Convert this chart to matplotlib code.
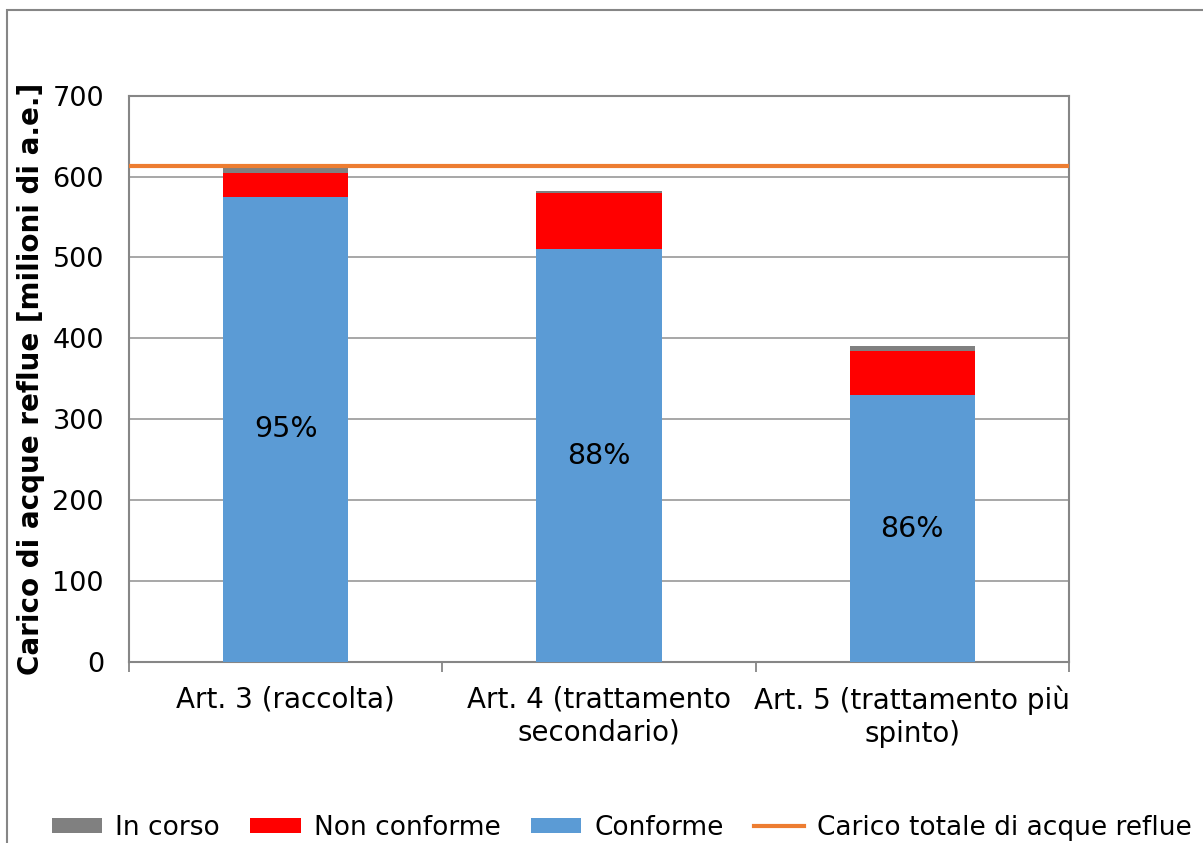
import matplotlib.pyplot as plt
from matplotlib.patches import Rectangle
import numpy as np

categories = ["Art. 3 (raccolta)", "Art. 4 (trattamento\nsecondario)", "Art. 5 (trattamento più\nspinto)"]
conforme = [575, 510, 330]
non_conforme = [29, 70, 55]
in_corso = [6, 2, 6]
carico_totale = 613
percent_labels = ["95%", "88%", "86%"]

plt.rcParams['font.family'] = ['DejaVu Sans']
fs = 20.5

fig = plt.figure(figsize=(12.03, 8.43), dpi=100)
ax = fig.add_axes([0.1072, 0.2147, 0.7814, 0.6718])

x = np.arange(len(categories))
w = 0.4
conf = np.array(conforme)
nonc = np.array(non_conforme)
inc = np.array(in_corso)

b1 = ax.bar(x, conf, w, color='#5B9BD5', zorder=3)
b2 = ax.bar(x, nonc, w, bottom=conf, color='#FF0000', zorder=3)
b3 = ax.bar(x, inc, w, bottom=conf + nonc, color='#808080', zorder=3)
line = ax.axhline(carico_totale, color='#ED7D31', lw=3, zorder=4)

for xi, c, lab in zip(x, conf, percent_labels):
    ax.text(xi, c / 2, lab, ha='center', va='center', fontsize=fs, zorder=5)

ax.set_xlim(-0.5, 2.5)
ax.set_ylim(0, 700)
ax.set_yticks(np.arange(0, 701, 100))
ax.yaxis.grid(True, color='#A0A0A0', lw=1.3, zorder=0)
ax.set_axisbelow(True)
ax.tick_params(axis='y', length=0, pad=18, labelsize=19.5)

ax.set_xticks(x)
ax.set_xticklabels(categories, fontsize=20, linespacing=1.2)
ax.set_xticks([-0.5, 0.5, 1.5, 2.5], minor=True)
ax.tick_params(axis='x', which='major', length=0, pad=17)
ax.tick_params(axis='x', which='minor', length=7, width=1.3, color='#868686')

for s in ax.spines.values():
    s.set_color('#868686')
    s.set_linewidth(1.5)

ax.set_ylabel("Carico di acque reflue [milioni di a.e.]", fontsize=20, fontweight='bold')
ax.yaxis.set_label_coords(-0.089, 0.5)

handles = [b3, b2, b1, line]
labels = ["In corso", "Non conforme", "Conforme", "Carico totale di acque reflue"]
fig.legend(handles, labels, loc='center', bbox_to_anchor=(0.517, 0.018), ncol=4,
           frameon=False, fontsize=19, handlelength=1.9, handleheight=0.55,
           handletextpad=0.5, columnspacing=1.15)

fig.patches.append(Rectangle((7 / 1203, -0.1), 1.2, (843 - 10) / 843 + 0.1,
                             transform=fig.transFigure, fill=False,
                             edgecolor='#868686', lw=1.5))

fig.savefig("out.png", dpi=100)
